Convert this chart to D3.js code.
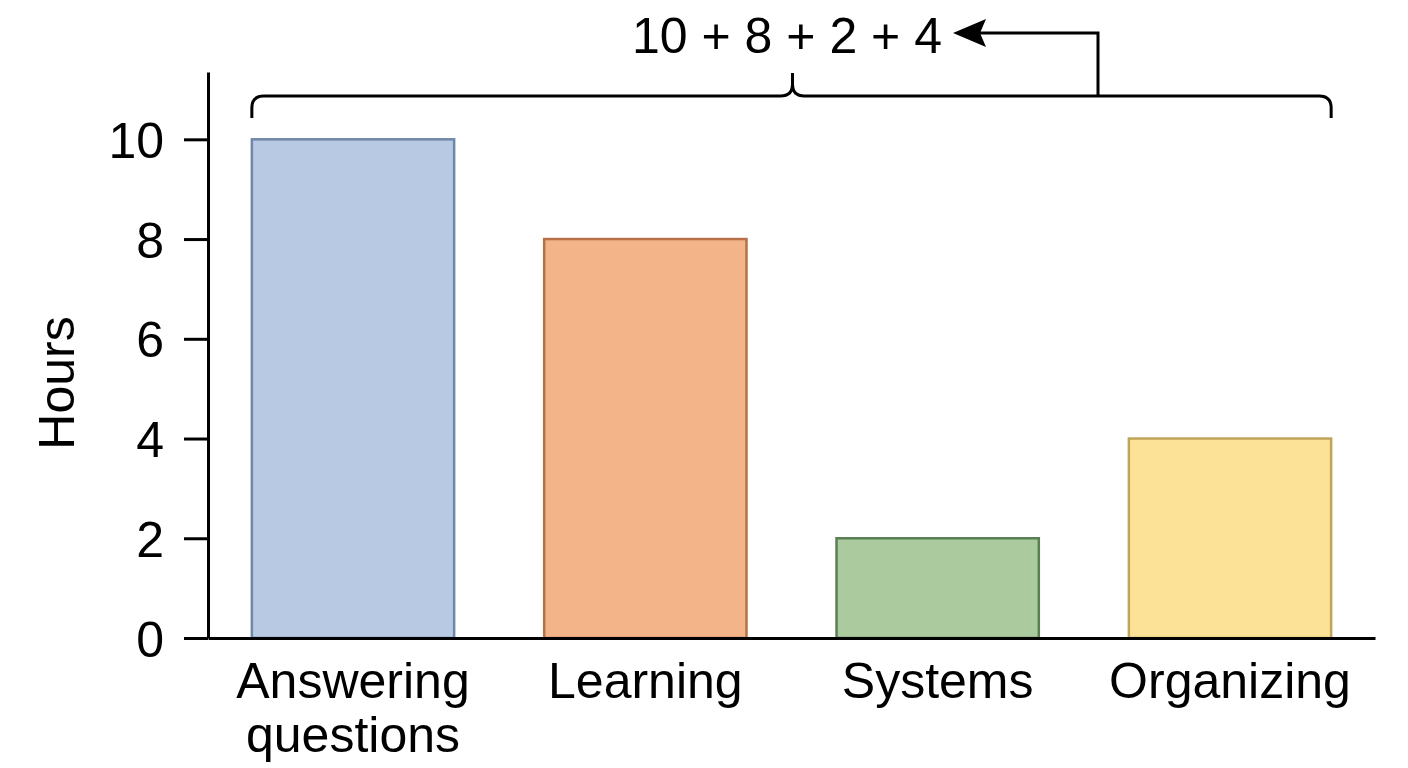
<!DOCTYPE html>
<html>
<head>
<meta charset="utf-8">
<script src="https://cdn.jsdelivr.net/npm/d3@7"></script>
<style>
  body { margin: 0; background: #fff; }
  text { font-family: "Liberation Sans", Arial, Helvetica, sans-serif; fill: #000; }
</style>
</head>
<body>
<script>
// data
var categories = ['Answering questions', 'Learning', 'Systems', 'Organizing'];
var hours = [10, 8, 2, 4];
var yTicks = [0, 2, 4, 6, 8, 10];
var fills = ['#b8c9e4', '#f3b48a', '#abca9e', '#fbe296'];
var strokes = ['#6f87a8', '#b87048', '#5b7f55', '#bfa55a'];

var width = 1408, height = 768;

var svg = d3.select('body')
    .append('svg')
    .attr('width', width)
    .attr('height', height);

//scales
var xScale = d3.scaleBand()
    .domain(categories)
    .range([208, 1375])
    .paddingInner(0.308)
    .paddingOuter(0.15);

var yScale = d3.scaleLinear()
    .domain([0, 11.35])
    .range([638, 72]);

//bars
svg.selectAll('rect.bar')
    .data(hours)
    .enter()
    .append('rect')
    .attr('class', 'bar')
    .attr('x', (d, i) => xScale(categories[i]))
    .attr('y', d => yScale(d))
    .attr('width', xScale.bandwidth())
    .attr('height', d => yScale(0) - yScale(d))
    .attr('fill', (d, i) => fills[i])
    .attr('stroke', (d, i) => strokes[i])
    .attr('stroke-width', 2.5);

//y axis
var yAxis = svg.append('g')
    .attr('transform', 'translate(208,0)')
    .call(d3.axisLeft(yScale).tickValues(yTicks).tickSize(24).tickPadding(20).tickSizeOuter(0));
yAxis.select('.domain').attr('stroke-width', 3);
yAxis.selectAll('.tick line').attr('stroke-width', 3);
yAxis.selectAll('.tick text')
    .style('font-size', '50px')
    .style('font-family', '"Liberation Sans", Arial, sans-serif')
    .attr('dy', '0.36em');

//x axis
var xAxis = svg.append('g')
    .attr('transform', 'translate(0,638)')
    .call(d3.axisBottom(xScale).tickSize(0).tickSizeOuter(0).tickFormat(''));
xAxis.select('.domain').attr('stroke-width', 3);

//category labels, one text per line
categories.forEach(function(d) {
    d.split(' ').forEach(function(w, j) {
        svg.append('text')
            .attr('class', 'cat')
            .attr('text-anchor', 'middle')
            .style('font-size', '50px')
            .attr('x', xScale(d) + xScale.bandwidth() / 2)
            .attr('y', 698 + j * 54)
            .text(w);
    });
});

//y label
svg.append('text')
    .text('Hours')
    .attr('text-anchor', 'middle')
    .style('font-size', '50px')
    .attr('transform', 'translate(74,383) rotate(-90)');

//brace over all bars
var bx0 = xScale(categories[0]);
var bx1 = xScale(categories[categories.length - 1]) + xScale.bandwidth();
var bmid = (bx0 + bx1) / 2 + 1;
var by = 96, r = 12;
var brace = 'M' + bx0 + ',118'
    + ' L' + bx0 + ',' + (by + r)
    + ' Q' + bx0 + ',' + by + ' ' + (bx0 + r) + ',' + by
    + ' L' + (bmid - r) + ',' + by
    + ' Q' + bmid + ',' + by + ' ' + bmid + ',' + (by - r)
    + ' L' + bmid + ',73'
    + ' M' + bmid + ',' + (by - r)
    + ' Q' + bmid + ',' + by + ' ' + (bmid + r) + ',' + by
    + ' L' + (bx1 - r) + ',' + by
    + ' Q' + bx1 + ',' + by + ' ' + bx1 + ',' + (by + r)
    + ' L' + bx1 + ',118';
svg.append('path')
    .attr('d', brace)
    .attr('fill', 'none')
    .attr('stroke', '#000')
    .attr('stroke-width', 3);

//sum label
svg.append('text')
    .text(hours.join(' + '))
    .attr('x', 787)
    .attr('y', 53)
    .attr('text-anchor', 'middle')
    .style('font-size', '50px');

//arrow
var ax = 1098, ay = 33, tip = 953;
svg.append('path')
    .attr('d', 'M' + ax + ',' + by + ' L' + ax + ',' + ay + ' L' + (tip + 25) + ',' + ay)
    .attr('fill', 'none')
    .attr('stroke', '#000')
    .attr('stroke-width', 3);
svg.append('path')
    .attr('d', 'M' + tip + ',' + ay + ' L' + (tip + 33) + ',' + (ay - 14)
        + ' L' + (tip + 27) + ',' + ay + ' L' + (tip + 33) + ',' + (ay + 14) + ' Z')
    .attr('fill', '#000');
</script>
</body>
</html>
